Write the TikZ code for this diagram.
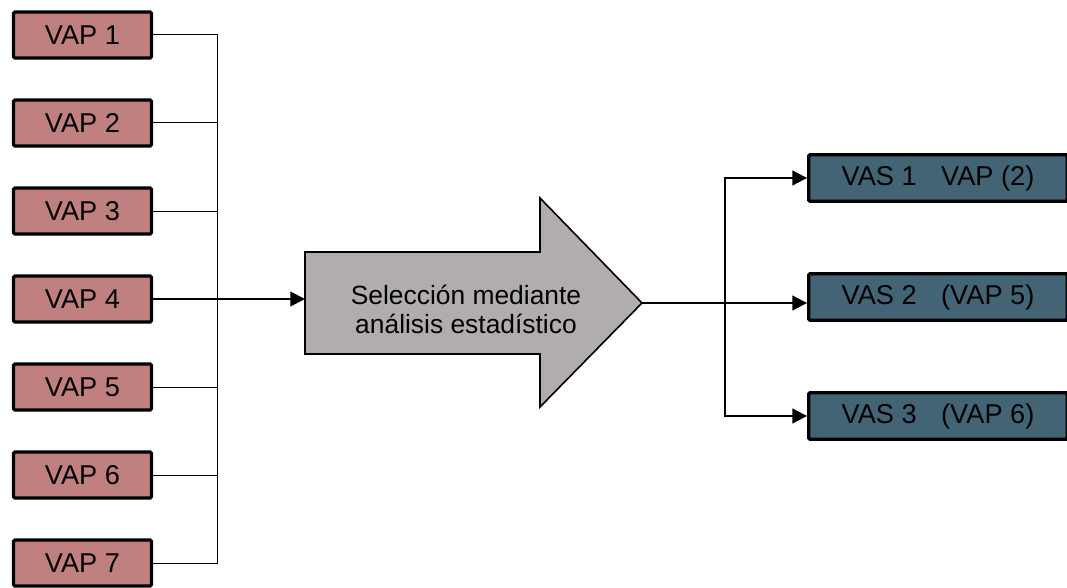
\documentclass[tikz,border=0pt]{standalone}
\usepackage{fontspec}
\setmainfont{Liberation Sans}
\usetikzlibrary{arrows.meta}
\definecolor{vapred}{HTML}{C08080}
\definecolor{vasblue}{HTML}{436474}
\definecolor{selgray}{HTML}{B0ADAC}

\begin{document}
\begin{tikzpicture}[x=0.75pt, y=-0.75pt,
    vapbox/.style={draw=black, line width=2.4pt, rounded corners=1pt, fill=vapred,
        minimum width=103.5pt, minimum height=34.5pt, inner sep=0pt,
        font=\fontsize{20.4}{24}\selectfont},
    vasbox/.style={vapbox, fill=vasblue, minimum width=194pt, minimum height=35pt},
    busline/.style={line width=0.75pt},
    flowline/.style={line width=1.5pt, -{Triangle[length=11pt, width=11pt]}}]
    %%%%% frame %%%%%
    \useasboundingbox (0, 0) rectangle (1067, 588);

    %%%%% inputs %%%%%
    \node[vapbox] (vap1) at (82.5, 35) {VAP 1};
    \node[vapbox] (vap2) at (82.5, 123) {VAP 2};
    \node[vapbox] (vap3) at (82.5, 211) {VAP 3};
    \node[vapbox] (vap4) at (82.5, 299) {VAP 4};
    \node[vapbox] (vap5) at (82.5, 387) {VAP 5};
    \node[vapbox] (vap6) at (82.5, 475) {VAP 6};
    \node[vapbox] (vap7) at (82.5, 563) {VAP 7};

    \coordinate (bus) at (217, 0);
    \draw[busline] (vap1.east) -- (vap1.east -| bus) -- (vap7.east -| bus) -- (vap7.east);
    \draw[busline] (vap2.east) -- (vap2.east -| bus);
    \draw[busline] (vap3.east) -- (vap3.east -| bus);
    \draw[busline] (vap5.east) -- (vap5.east -| bus);
    \draw[busline] (vap6.east) -- (vap6.east -| bus);

    %%%%% selection arrow %%%%%
    \coordinate (selwest) at (305, 303);
    \coordinate (seltip) at (642, 303);
    \draw[line width=1.2pt, fill=selgray] (305, 252) -- (540, 252) -- (540, 198)
        -- (seltip) -- (540, 407) -- (540, 354) -- (305, 354) -- cycle;
    \node[align=center, font=\fontsize{19.8}{21.8}\selectfont] (sel) at (466, 309)
        {Selección mediante\\análisis estadístico};

    \draw[flowline] (vap4.east) -- (vap4.east -| selwest);

    %%%%% outputs %%%%%
    \node[vasbox] (vas1) at (938, 178) {VAS 1\hspace{0.9em}VAP (2)};
    \node[vasbox] (vas2) at (938, 297) {VAS 2\hspace{0.9em}(VAP 5)};
    \node[vasbox] (vas3) at (938, 416) {VAS 3\hspace{0.9em}(VAP 6)};

    \coordinate (split) at (725, 303);
    \draw[flowline] (seltip) -- (seltip -| vas2.west);
    \draw[flowline] (split) |- (vas1.west);
    \draw[flowline] (split) |- (vas3.west);
\end{tikzpicture}
\end{document}
